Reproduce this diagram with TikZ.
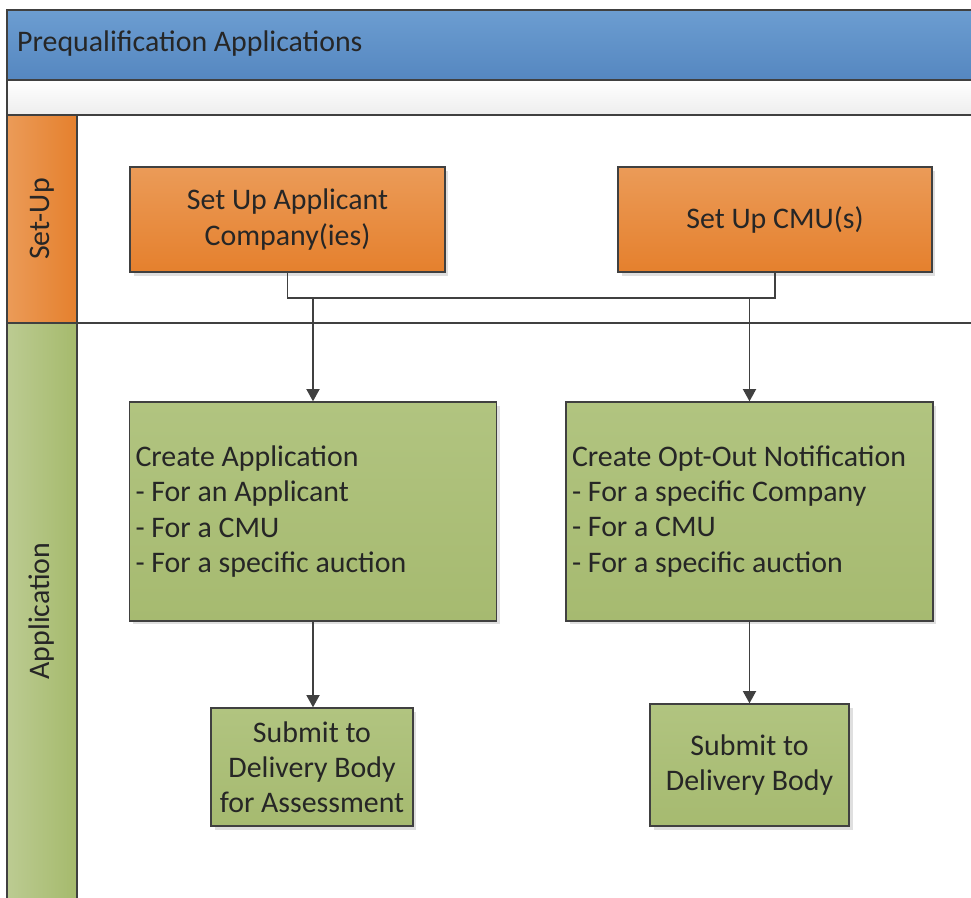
\documentclass[tikz,border=0pt]{standalone}
\usepackage{fontspec}
\setmainfont{Carlito}
\usetikzlibrary{arrows.meta,shadows}

\definecolor{titletop}{HTML}{6C9DD1}
\definecolor{titlebot}{HTML}{5587C0}
\definecolor{orangetop}{HTML}{EB9B58}
\definecolor{orangebot}{HTML}{E5802D}
\definecolor{greentop}{HTML}{B1C480}
\definecolor{greenbot}{HTML}{A6BA70}
\definecolor{lanegreenl}{HTML}{BCCB92}
\definecolor{lanegreenr}{HTML}{A5BA6C}
\definecolor{edge}{HTML}{404040}

\tikzstyle{block} = [rectangle, draw=edge, line width=0.8pt, text=black!85,
     drop shadow={opacity=.25, shadow xshift=2pt, shadow yshift=-2pt},
     font=\fontsize{17}{20}\selectfont]
\tikzstyle{setupblock} = [block, top color=orangetop, bottom color=orangebot, align=center]
\tikzstyle{appblock} = [block, top color=greentop, bottom color=greenbot]
\tikzstyle{lane} = [draw=edge, line width=0.8pt]
\tikzstyle{lanelabel} = [rotate=90, text=black!85, font=\fontsize{17}{20}\selectfont]
\tikzstyle{arrow} = [draw=edge, line width=0.8pt, -{Triangle[length=7pt,width=7.5pt]}]

\begin{document}
\begin{tikzpicture}[x=0.02cm, y=-0.02cm]
\useasboundingbox (0,0) rectangle (971,898);
\clip (0,0) rectangle (971,898);

% pool and lanes
\shade[top color=titletop, bottom color=titlebot] (7,10) rectangle (980,80);
\shade[top color=white, bottom color=black!7] (7,80) rectangle (980,115);
\shade[left color=orangetop, right color=orangebot] (7,115) rectangle (77,323);
\shade[left color=lanegreenl, right color=lanegreenr] (7,323) rectangle (77,905);
\draw[lane] (980,10) -- (7,10) -- (7,905);
\draw[lane] (7,80) -- (980,80);
\draw[lane] (7,115) -- (980,115);
\draw[lane] (7,323) -- (980,323);
\draw[lane] (77,115) -- (77,905);

\node[anchor=west, text=black!85, font=\fontsize{17}{20}\selectfont](pooltitle) at (11,44) {Prequalification Applications};
\node[lanelabel](setuplane) at (42,219) {Set-Up};
\node[lanelabel](applane) at (42,611) {Application};

% set-up lane
\node[setupblock, minimum width=6.3cm, minimum height=2.1cm](setupcompany) at (287.5,219.5) {Set Up Applicant\\Company(ies)};
\node[setupblock, minimum width=6.28cm, minimum height=2.1cm](setupcmu) at (775,219.5) {Set Up CMU(s)};

% application lane
\node[appblock, minimum width=7.32cm, minimum height=4.38cm, text width=7.1cm, align=flush left](createapp) at (313,511.5) {Create Application\\- For an Applicant\\- For a CMU\\- For a specific auction};
\node[appblock, minimum width=7.3cm, minimum height=4.38cm, text width=7.1cm, align=flush left](createoptout) at (749.5,511.5) {Create Opt-Out Notification\\- For a specific Company\\- For a CMU\\- For a specific auction};
\node[appblock, minimum width=4.04cm, minimum height=2.36cm, align=center](submitapp) at (312,767) {Submit to\\Delivery Body\\for Assessment};
\node[appblock, minimum width=3.98cm, minimum height=2.44cm, align=center](submitoptout) at (749.5,765) {Submit to\\Delivery Body};

\coordinate(join) at (0,298);

\draw[draw=edge, line width=0.8pt] (setupcompany.south) |- (join -| setupcmu.south) -- (setupcmu.south);
\path[arrow] (createapp.north |- join) -- (createapp.north);
\path[arrow] (createoptout.north |- join) -- (createoptout.north);
\path[arrow] (createapp.south) -- (createapp.south |- submitapp.north);
\path[arrow] (createoptout.south) -- (createoptout.south |- submitoptout.north);
\end{tikzpicture}
\end{document}
